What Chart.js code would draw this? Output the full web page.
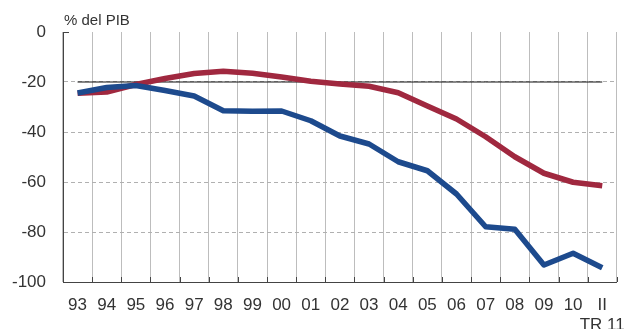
<!DOCTYPE html>
<html lang="es">
<head>
<meta charset="UTF-8">
<title>% del PIB</title>
<script src="https://cdn.jsdelivr.net/npm/chart.js"></script>
<style>
    html, body { margin: 0; padding: 0; background: #fff; }
    .wrap { width: 638px; height: 329px; position: relative; }
</style>
</head>
<body>
<div class="wrap"><canvas id="chart" width="638" height="329"></canvas></div>
<script>
    // Categories (years, last one is 2nd quarter 2011)
    const labels = ['93', '94', '95', '96', '97', '98', '99', '00', '01', '02',
        '03', '04', '05', '06', '07', '08', '09', '10', ['II', 'TR 11']];

    // Blue series
    const blueSeries = [-24.4, -22.2, -21.4, -23.4, -25.6, -31.5, -31.7, -31.6, -35.5, -41.6,
        -44.8, -51.9, -55.5, -64.8, -77.9, -78.9, -93.2, -88.5, -94.3];
    // Red series
    const redSeries = [-24.5, -24.0, -21.0, -18.6, -16.6, -15.7, -16.5, -18.0, -19.7, -20.8,
        -21.7, -24.3, -29.6, -34.8, -41.9, -49.9, -56.5, -60.1, -61.5];
    // Reference line at -20
    const refLine = [-20, -20, -20, -20, -20, -20, -20, -20, -20, -20,
        -20, -20, -20, -20, -20, -20, -20, -20, -20];

    const yTicks = [0, -20, -40, -60, -80, -100];

    const font = "'Liberation Sans', Arial, sans-serif";
    const textColor = '#333';

    // unit label and small axis tick marks
    const decor = {
        id: 'decor',
        afterDraw(chart) {
            const ctx = chart.ctx;
            const area = chart.chartArea;
            const x = chart.scales.x;
            ctx.save();
            ctx.fillStyle = textColor;
            ctx.font = '15px ' + font;
            ctx.textAlign = 'left';
            ctx.textBaseline = 'alphabetic';
            ctx.fillText('% del PIB', area.left + 1, 25);

            ctx.strokeStyle = '#444';
            ctx.lineWidth = 1;
            ctx.beginPath();
            ctx.moveTo(area.left, area.top + 0.5);
            ctx.lineTo(area.left + 6, area.top + 0.5);
            for (let i = 1; i <= labels.length; i++) {
                const px = i < labels.length
                    ? (x.getPixelForTick(i - 1) + x.getPixelForTick(i)) / 2
                    : area.right;
                const xx = Math.round(px) + 0.5;
                ctx.moveTo(xx, area.bottom);
                ctx.lineTo(xx, area.bottom - 5);
            }
            ctx.stroke();
            ctx.restore();
        }
    };

    new Chart(document.getElementById('chart'), {
        type: 'line',
        data: {
            labels: labels,
            datasets: [
                {
                    data: refLine,
                    borderColor: '#111',
                    borderWidth: 1,
                    pointRadius: 0,
                    order: 3
                },
                {
                    data: redSeries,
                    borderColor: '#a0283f',
                    borderWidth: 5.5,
                    pointRadius: 0,
                    borderJoinStyle: 'round',
                    order: 2
                },
                {
                    data: blueSeries,
                    borderColor: '#1d4a8d',
                    borderWidth: 5.5,
                    pointRadius: 0,
                    borderJoinStyle: 'round',
                    order: 1
                }
            ]
        },
        options: {
            responsive: false,
            animation: false,
            layout: { padding: { top: 32, right: 9, left: 0, bottom: 0 } },
            plugins: {
                legend: { display: false },
                tooltip: { enabled: false }
            },
            scales: {
                x: {
                    offset: true,
                    grid: {
                        offset: true,
                        color: '#bdbdbd',
                        lineWidth: 1,
                        drawTicks: false
                    },
                    border: { color: '#444', width: 1 },
                    ticks: {
                        color: textColor,
                        font: { family: font, size: 17 },
                        padding: 13,
                        maxRotation: 0,
                        autoSkip: false
                    },
                    afterFit(scale) { scale.height = 47; }
                },
                y: {
                    min: -100,
                    max: 0,
                    afterBuildTicks(scale) {
                        scale.ticks = yTicks.map(v => ({ value: v }));
                    },
                    grid: {
                        color: ctx => (ctx.tick && (ctx.tick.value === 0 || ctx.tick.value === -100)) ? 'rgba(0,0,0,0)' : '#b0b0b0',
                        lineWidth: 1,
                        drawTicks: false
                    },
                    border: { color: '#444', width: 1, dash: [4, 3] },
                    ticks: {
                        color: textColor,
                        font: { family: font, size: 17 },
                        padding: 17
                    },
                    afterFit(scale) { scale.width = 63; }
                }
            }
        },
        plugins: [decor]
    });
</script>
</body>
</html>
